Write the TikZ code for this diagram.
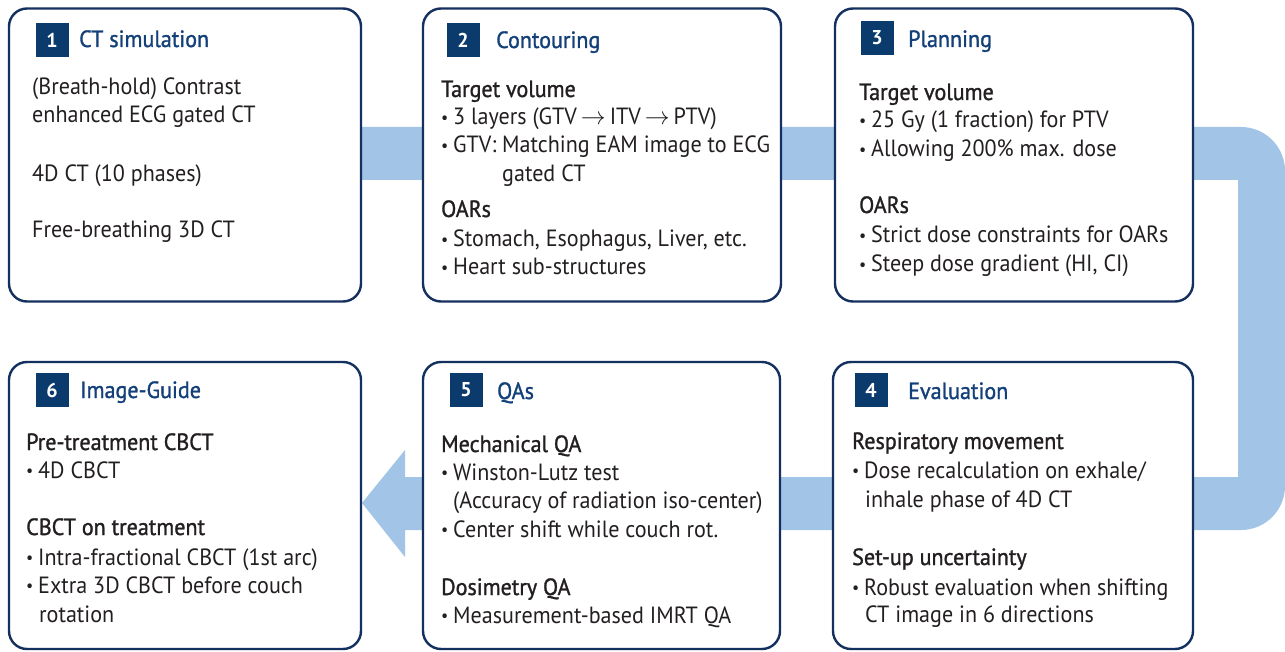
\documentclass[tikz,border=0pt]{standalone}
\usepackage{fontspec}
\setmainfont{PT Sans}[FakeStretch=0.94]
\newfontfamily\headfont{PT Sans}[FakeStretch=0.94,FakeBold=1.2]
\newfontfamily\numfont{PT Sans Bold}
\definecolor{navy}{HTML}{14305F}
\definecolor{sqnavy}{HTML}{0B3A6C}
\definecolor{titleblue}{HTML}{14407A}
\definecolor{bandblue}{HTML}{A1C4E7}
\definecolor{bodytext}{HTML}{231F20}
\newcommand\bul{\makebox[12pt][l]{\raisebox{1.8pt}{\scalebox{0.72}{\textbullet}}}}
\newcommand\arr{\,$\rightarrow$\,}
\begin{document}
\begin{tikzpicture}[x=1pt,y=-1pt,
  box/.style={draw=navy,line width=2.4pt,rounded corners=18pt,fill=white,inner sep=0pt},
  numbox/.style={fill=sqnavy,minimum width=33pt,minimum height=34pt,inner sep=0pt,text=white,font=\numfont\fontsize{20}{20}\selectfont},
  title/.style={anchor=base west,inner sep=0pt,text=titleblue,font=\headfont\fontsize{23.5}{26}\selectfont},
  head/.style={anchor=base west,inner sep=0pt,text=bodytext,font=\headfont\fontsize{23.5}{26}\selectfont},
  body/.style={anchor=base west,inner sep=0pt,text=bodytext,font=\fontsize{23.5}{26}\selectfont}]
\useasboundingbox (0,0) rectangle (1285,652);
\fill[white] (0,0) rectangle (1285,652);
% band
\fill[bandblue] (361,127) -- (1200,127) [rounded corners=44pt] -- (1285,127) -- (1285,530) [sharp corners] -- (405,530) -- (405,557) -- (362,503) -- (405,450) -- (405,477) -- (1238,477) -- (1238,180) -- (361,180) -- cycle;
% boxes
\node[box,minimum width=352pt,minimum height=293pt] (b1) at (185,155) {};
\node[box,minimum width=358pt,minimum height=293pt] (b2) at (602,155) {};
\node[box,minimum width=358pt,minimum height=293pt] (b3) at (1014,155) {};
\node[box,minimum width=352pt,minimum height=287pt] (b6) at (185,505.5) {};
\node[box,minimum width=357pt,minimum height=287pt] (b5) at (601.5,505.5) {};
\node[box,minimum width=360pt,minimum height=287pt] (b4) at (1013,505.5) {};
% numbers and titles
\node[numbox] (n1) at (52,40) {1};
\node[title] (h1) at (79,47) {CT simulation};
\node[numbox] (n2) at (463,40) {2};
\node[title] (h2) at (496,48) {Contouring};
\node[numbox] (n3) at (877,38) {3};
\node[title] (h3) at (908,47) {Planning};
\node[numbox] (n4) at (871,390) {4};
\node[title] (h4) at (908,399) {Evaluation};
\node[numbox] (n5) at (466,390) {5};
\node[title] (h5) at (497,399) {QAs};
\node[numbox] (n6) at (52,390) {6};
\node[title] (h6) at (80,398) {Image-Guide};
% box 1
\node[body] (t11) at (32,95) {(Breath-hold) Contrast};
\node[body] (t12) at (32,123) {enhanced ECG gated CT};
\node[body] (t13) at (32,182) {4D CT (10 phases)};
\node[body] (t14) at (32,238) {Free-breathing 3D CT};
% box 2
\node[head] (t21) at (441,97) {Target volume};
\node[body] (t22) at (441,125) {\bul 3 layers (GTV\arr ITV\arr PTV)};
\node[body] (t23) at (441,153) {\bul GTV: Matching EAM image to ECG};
\node[body] (t24) at (502,182) {gated CT};
\node[head] (t25) at (441,217) {OARs};
\node[body] (t26) at (441,247) {\bul Stomach, Esophagus, Liver, etc.};
\node[body] (t27) at (441,275) {\bul Heart sub-structures};
% box 3
\node[head] (t31) at (859,100) {Target volume};
\node[body] (t32) at (859,128) {\bul 25 Gy (1 fraction) for PTV};
\node[body] (t33) at (859,157) {\bul Allowing 200\% max. dose};
\node[head] (t34) at (859,213) {OARs};
\node[body] (t35) at (859,243) {\bul Strict dose constraints for OARs};
\node[body] (t36) at (859,272) {\bul Steep dose gradient (HI, CI)};
% box 4
\node[head] (t41) at (852,449) {Respiratory movement};
\node[body] (t42) at (852,478) {\bul Dose recalculation on exhale/};
\node[body] (t43) at (865,507) {inhale phase of 4D CT};
\node[head] (t44) at (852,565) {Set-up uncertainty};
\node[body] (t45) at (852,595) {\bul Robust evaluation when shifting};
\node[body] (t46) at (865,622) {CT image in 6 directions};
% box 5
\node[head] (t51) at (441,452) {Mechanical QA};
\node[body] (t52) at (441,480) {\bul Winston-Lutz test};
\node[body] (t53) at (453,508) {(Accuracy of radiation iso-center)};
\node[body] (t54) at (441,537) {\bul Center shift while couch rot.};
\node[head] (t55) at (441,595) {Dosimetry QA};
\node[body] (t56) at (441,623) {\bul Measurement-based IMRT QA};
% box 6
\node[head] (t61) at (26,450) {Pre-treatment CBCT};
\node[body] (t62) at (26,478) {\bul 4D CBCT};
\node[head] (t63) at (26,535) {CBCT on treatment};
\node[body] (t64) at (26,565) {\bul Intra-fractional CBCT (1st arc)};
\node[body] (t65) at (26,593) {\bul Extra 3D CBCT before couch};
\node[body] (t66) at (39,622) {rotation};
\end{tikzpicture}
\end{document}
